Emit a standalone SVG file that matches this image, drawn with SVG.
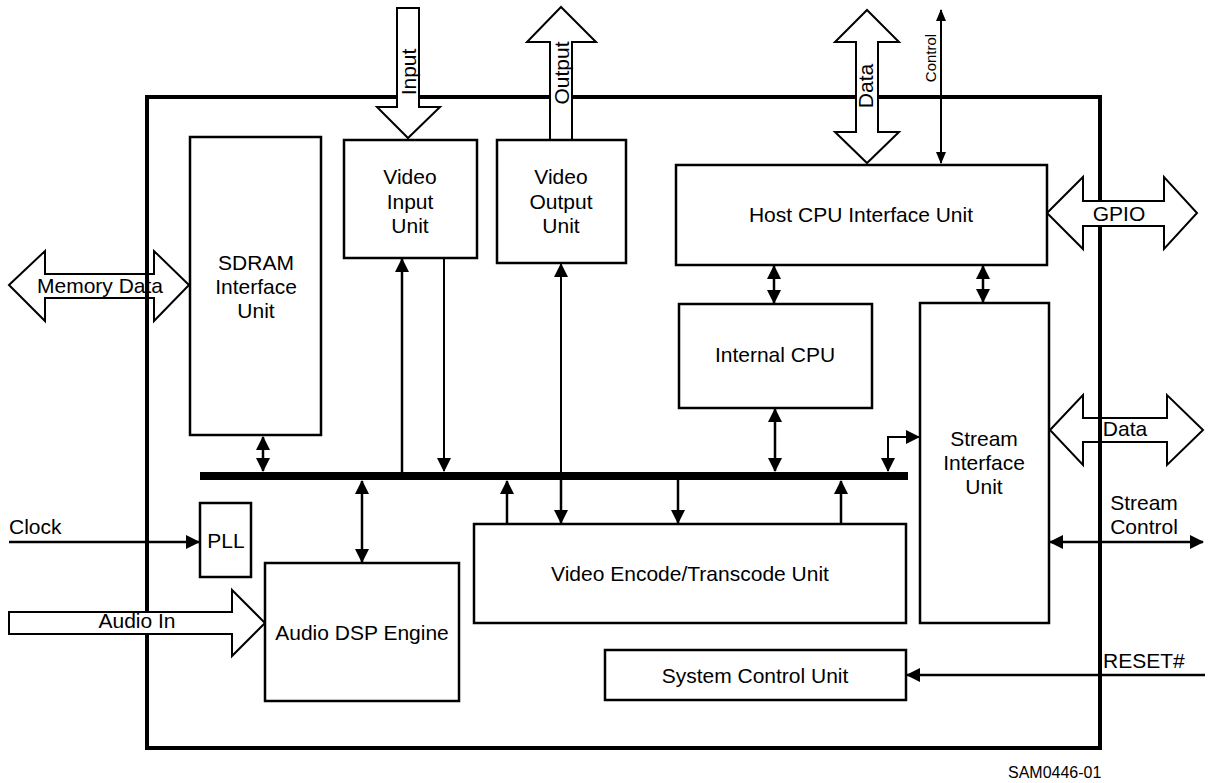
<svg xmlns="http://www.w3.org/2000/svg" width="1208" height="783" viewBox="0 0 1208 783">
<style>
.box{fill:#fff;stroke:#000;stroke-width:2.5}
.hollow{fill:#fff;stroke:#000;stroke-width:2;stroke-linejoin:miter}
.ln{fill:none;stroke:#000;stroke-width:2.5}
.thin{stroke-width:2}
.da{marker-start:url(#ah);marker-end:url(#ah)}
.ea{marker-end:url(#ah)}
text{font-family:"Liberation Sans",Arial,sans-serif;font-size:21px;fill:#000}
.c{text-anchor:middle}
</style>
<defs>
<marker id="ah" markerUnits="userSpaceOnUse" markerWidth="14" markerHeight="14" viewBox="0 0 14 14" refX="13" refY="7" orient="auto-start-reverse"><path d="M0,0L14,7L0,14z" fill="#000"/></marker>
<marker id="as" markerUnits="userSpaceOnUse" markerWidth="12" markerHeight="10" viewBox="0 0 12 10" refX="11" refY="5" orient="auto-start-reverse"><path d="M0,0L12,5L0,10z" fill="#000"/></marker>
</defs>
<rect width="1208" height="783" fill="#fff"/>
<g id="chip">
<rect x="147" y="97" width="953" height="651" fill="none" stroke="#000" stroke-width="4"/>
</g>
<g id="external-signals">
<polygon class="hollow" points="9,285 45,251 45,274 154,274 154,251 189,285 154,321 154,298 45,298 45,321"/>
<polygon class="hollow" points="9,612 232,612 232,590 265,623 232,656 232,634 9,634"/>
<polygon class="hollow" points="397,8 419,8 419,107 440,107 408,138 377,107 397,107"/>
<polygon class="hollow" points="550,140 550,42 527,42 561,7 596,42 572,42 572,140"/>
<polygon class="hollow" points="867,10 899,42 878,42 878,132 899,132 867,163 835,132 856,132 856,42 835,42"/>
<polygon class="hollow" points="1047,213 1083,177 1083,201 1164,201 1164,177 1197,213 1164,249 1164,226 1083,226 1083,249"/>
<polygon class="hollow" points="1050,430 1083,395 1083,418 1167,418 1167,395 1203,430 1167,465 1167,442 1083,442 1083,465"/>
<path d="M147,274V298M1100,418V442" stroke="#000" stroke-width="4"/>
<text x="100" y="293" class="c">Memory Data</text>
<text x="137" y="628" class="c">Audio In</text>
<text transform="translate(416,72) rotate(-90)" class="c">Input</text>
<text transform="translate(569,73) rotate(-90)" class="c">Output</text>
<text transform="translate(873,86) rotate(-90)" class="c">Data</text>
<text transform="translate(936,58) rotate(-90)" class="c" style="font-size:15px">Control</text>
<text x="1119" y="221" class="c">GPIO</text>
<text x="1125" y="436" class="c">Data</text>
<text x="9" y="534">Clock</text>
<text x="1144" y="510" class="c">Stream</text>
<text x="1144" y="534" class="c">Control</text>
<text x="1103" y="668">RESET#</text>
</g>
<g id="sdram">
<rect class="box" x="190" y="137" width="131" height="298"/>
<text x="256" y="270" class="c">SDRAM</text>
<text x="256" y="294" class="c">Interface</text>
<text x="256" y="318" class="c">Unit</text>
</g>
<g id="video-input">
<rect class="box" x="344" y="140" width="133" height="118"/>
<text x="410" y="184" class="c">Video</text>
<text x="410" y="209" class="c">Input</text>
<text x="410" y="233" class="c">Unit</text>
</g>
<g id="video-output">
<rect class="box" x="497" y="140" width="129" height="123"/>
<text x="561" y="184" class="c">Video</text>
<text x="561" y="209" class="c">Output</text>
<text x="561" y="233" class="c">Unit</text>
</g>
<g id="host-cpu">
<rect class="box" x="676" y="165" width="371" height="100"/>
<text x="861" y="222" class="c">Host CPU Interface Unit</text>
</g>
<g id="internal-cpu">
<rect class="box" x="679" y="304" width="193" height="104"/>
<text x="775" y="362" class="c">Internal CPU</text>
</g>
<g id="stream-interface">
<rect class="box" x="920" y="303" width="129" height="320"/>
<text x="984" y="446" class="c">Stream</text>
<text x="984" y="470" class="c">Interface</text>
<text x="984" y="494" class="c">Unit</text>
</g>
<g id="pll">
<rect class="box" x="200" y="503" width="51" height="74"/>
<text x="226" y="548" class="c">PLL</text>
</g>
<g id="audio-dsp">
<rect class="box" x="265" y="563" width="194" height="138"/>
<text x="362" y="640" class="c">Audio DSP Engine</text>
</g>
<g id="video-encode">
<rect class="box" x="474" y="524" width="432" height="99"/>
<text x="690" y="581" class="c">Video Encode/Transcode Unit</text>
</g>
<g id="system-control">
<rect class="box" x="605" y="650" width="301" height="50"/>
<text x="755" y="683" class="c">System Control Unit</text>
</g>
<g id="connectors">
<rect id="bus" x="200" y="472" width="708" height="8" fill="#000"/>
<path class="ln da" d="M263,437V471"/>
<path class="ln ea" d="M402,472V259"/>
<path class="ln thin ea" d="M444,259V471"/>
<path class="ln thin ea" d="M561,472V264"/>
<path class="ln ea" d="M561,480V523"/>
<path class="ln ea" d="M507,524V481"/>
<path class="ln ea" d="M678,480V523"/>
<path class="ln ea" d="M841,524V481"/>
<path class="ln da" d="M362,481V562"/>
<path class="ln da" d="M775,409V471"/>
<path class="ln da" d="M774,266V303"/>
<path class="ln da" d="M983,266V302"/>
<path class="ln thin da" d="M888,471V437H919"/>
<path class="ln thin" d="M941,10V163" marker-start="url(#as)" marker-end="url(#as)"/>
<path class="ln ea" d="M9,542H199"/>
<path class="ln da" d="M1050,542H1203"/>
<path class="ln ea" d="M1205,675H907"/>
</g>
<text x="1008" y="778" style="font-size:16px">SAM0446-01</text>
</svg>
